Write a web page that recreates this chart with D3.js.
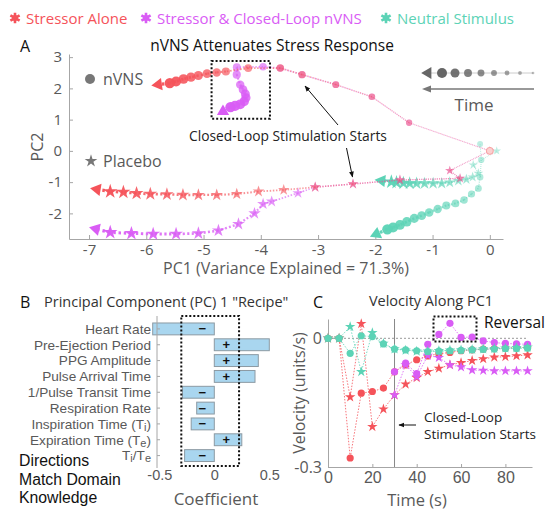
<!DOCTYPE html>
<html>
<head>
<meta charset="utf-8">
<script src="https://cdn.jsdelivr.net/npm/d3@7"></script>
<style>
body { margin: 0; background: #fff; }
svg { font-family: "Open Sans", sans-serif; }
</style>
</head>
<body>
<svg width="554" height="510"></svg>
<script>
// ---- panel A: PC1/PC2 trajectories, [pc1, pc2], in time order (last point = triangle) ----
var stressNvns = [[0,0],[-1.41,0.9],[-2.06,1.73],[-2.69,2.12],[-3.28,2.44],[-3.66,2.65],[-4.22,2.65],[-4.61,2.54],[-4.77,2.51],[-4.94,2.47],[-5.09,2.41],[-5.22,2.36],[-5.35,2.30],[-5.48,2.22],[-5.59,2.17],[-5.79,2.12]];
var closedNvns = [[0,0],[-1.41,0.9],[-2.06,1.73],[-2.69,2.12],[-3.28,2.44],[-3.66,2.65],[-3.96,2.69],[-4.42,2.68],[-4.42,2.44],[-4.36,2.12],[-4.31,1.96],[-4.27,1.82],[-4.26,1.70],[-4.29,1.58],[-4.36,1.49],[-4.45,1.44],[-4.53,1.40],[-4.66,1.26]];
var neutralNvns = [[-0.17,0.22],[-0.15,-0.29],[-0.17,-0.84],[-0.2,-1.2],[-0.32,-1.38],[-0.45,-1.57],[-0.6,-1.68],[-0.76,-1.75],[-0.91,-1.86],[-1.06,-1.97],[-1.19,-2.07],[-1.32,-2.16],[-1.45,-2.27],[-1.57,-2.37],[-1.69,-2.45],[-1.79,-2.51],[-1.98,-2.66]];
var stressPlacebo = [[0,0],[-0.70,-0.63],[-0.52,-0.88],[-1.57,-0.93],[-2.39,-1.06],[-3.05,-1.16],[-3.6,-1.25],[-4.04,-1.30],[-4.42,-1.38],[-4.77,-1.41],[-5.09,-1.41],[-5.36,-1.41],[-5.64,-1.39],[-5.93,-1.38],[-6.17,-1.36],[-6.40,-1.32],[-6.63,-1.30],[-6.86,-1.23]];
var closedPlacebo = [[0,0],[-0.70,-0.63],[-0.52,-0.88],[-1.57,-0.93],[-2.39,-1.06],[-3.05,-1.16],[-3.35,-1.35],[-3.81,-1.62],[-3.96,-1.70],[-4.11,-2.0],[-4.39,-2.34],[-4.74,-2.55],[-5.09,-2.64],[-5.48,-2.66],[-5.88,-2.66],[-6.26,-2.64],[-6.63,-2.61],[-6.88,-2.50]];
var neutralPlacebo = [[0.12,0.0],[-0.29,-0.45],[-0.2,-0.72],[-0.3,-0.84],[-0.41,-0.91],[-0.55,-0.96],[-0.7,-1.01],[-0.84,-1.04],[-0.99,-1.04],[-1.14,-1.04],[-1.28,-1.04],[-1.40,-1.04],[-1.51,-1.03],[-1.63,-1.01],[-1.72,-0.99],[-1.89,-0.95]];
var pc1Ticks = [-7,-6,-5,-4,-3,-2,-1,0];
var pc2Ticks = [-2,-1,0,1,2,3];

// ---- panel B: PC1 loadings ----
var features = ["Heart Rate","Pre-Ejection Period","PPG Amplitude","Pulse Arrival Time","1/Pulse Transit Time","Respiration Rate","Inspiration Time (T_i)","Expiration Time (T_e)","T_i/T_e"];
var coefs = [-0.56, 0.50, 0.40, 0.37, -0.29, -0.16, -0.21, 0.25, -0.27];
var coefTicks = [-0.5, 0, 0.5];

// ---- panel C: velocity along PC1 ----
var times = [0,5,10,15,20,25,30,35,40,45,50,55,60,65,70,75,80,85,90];
var velStressNvns = [0,0,-0.279,-0.128,-0.124,-0.116,-0.078,-0.062,-0.050,-0.041,-0.036,-0.033,-0.029,-0.027,-0.025,-0.024,-0.023,-0.022,-0.021];
var velStressPlacebo = [0,0,-0.137,0.034,-0.206,-0.165,-0.132,-0.107,-0.092,-0.078,-0.070,-0.062,-0.057,-0.052,-0.048,-0.044,-0.043,-0.041,-0.039];
var velClosedNvns = [0,0,-0.279,-0.128,-0.124,-0.116,-0.078,-0.058,-0.082,-0.014,0.009,0.035,0.002,0.003,-0.006,-0.010,-0.012,-0.013,-0.014];
var velClosedPlacebo = [0,0,-0.137,0.034,-0.206,-0.165,-0.132,-0.062,-0.090,-0.040,-0.045,-0.062,-0.067,-0.074,-0.075,-0.076,-0.076,-0.076,-0.076];
var velNeutralNvns = [0,0,-0.035,0.006,0.004,-0.013,-0.025,-0.027,-0.029,-0.031,-0.030,-0.029,-0.028,-0.027,-0.026,-0.025,-0.024,-0.024,-0.023];
var velNeutralPlacebo = [0,0,0.027,-0.078,0.013,-0.012,-0.025,-0.028,-0.030,-0.030,-0.029,-0.028,-0.027,-0.026,-0.025,-0.024,-0.023,-0.022,-0.021];
var velTimeTicks = [0,20,40,60,80];
var velTicks = [-0.3, 0];
var stimTime = 30;

var red = "#f5535a", mag = "#d95cf5", teal = "#5cd3b6";
var txtGrey = "#595959", axGrey = "#a6a6a6";

var svg = d3.select("svg");
svg.append("defs").append("marker")
    .attr("id", "arr").attr("viewBox", "0 0 10 10").attr("refX", 9).attr("refY", 5)
    .attr("markerWidth", 6).attr("markerHeight", 6).attr("orient", "auto-start-reverse")
  .append("path").attr("d", "M0,1L10,5L0,9z").attr("fill", "#111");

function styleAxis(g, size) {
  g.select(".domain").attr("stroke", axGrey);
  g.selectAll(".tick line").attr("stroke", axGrey);
  g.selectAll(".tick text").attr("fill", txtGrey).style("font-size", size + "px").style("font-family", "Open Sans");
}

// ---- top legend ----
var legend = [["Stressor Alone", red, 15], ["Stressor & Closed-Loop nVNS", mag, 146], ["Neutral Stimulus", teal, 386]];
legend.forEach(function(d) {
  svg.append("path").attr("transform", "translate(" + d[2] + ",18)")
      .attr("d", d3.symbol(d3.symbolAsterisk, 80)()).attr("stroke", d[1]).attr("stroke-width", 2.6);
  svg.append("circle").attr("cx", d[2]).attr("cy", 18).attr("r", 3).attr("fill", d[1]);
  svg.append("text").attr("x", d[2] + 11).attr("y", 23.5).attr("fill", d[1])
      .style("font-size", "15px").text(d[0]);
});

// ================= panel A =================
var xA = d3.scaleLinear().domain([-7.35, 0.23]).range([69, 503]);
var yA = d3.scaleLinear().domain([-2.82, 3.1]).range([239, 54]);

svg.append("text").attr("x", 20).attr("y", 52).style("font-size", "16px").attr("fill", "#111").text("A");
svg.append("text").attr("x", 272).attr("y", 50.5).attr("text-anchor", "middle")
    .style("font-size", "15.5px").attr("fill", "#111").text("nVNS Attenuates Stress Response");

svg.append("g").attr("transform", "translate(0,239)")
    .call(d3.axisBottom(xA).tickValues(pc1Ticks).tickSize(-4).tickSizeOuter(0).tickPadding(5).tickFormat(String))
    .call(styleAxis, 15);
svg.append("g").attr("transform", "translate(69,0)")
    .call(d3.axisLeft(yA).tickValues(pc2Ticks).tickSize(-4).tickSizeOuter(0).tickPadding(7).tickFormat(String))
    .call(styleAxis, 15);
svg.append("text").attr("x", 286).attr("y", 274).attr("text-anchor", "middle")
    .style("font-size", "16px").attr("fill", txtGrey).text("PC1 (Variance Explained = 71.3%)");
svg.append("text").attr("transform", "translate(43,147) rotate(-90)").attr("text-anchor", "middle")
    .style("font-size", "16px").attr("fill", txtGrey).text("PC2");

var gA = svg.append("g");
function trajectory(pts, color, shape) {
  var n = pts.length, g = gA.append("g");
  var px = pts.map(function(p) { return [xA(p[0]), yA(p[1])]; });
  for (var i = 1; i < n; i++) {
    var t = i / (n - 1), w = 0.9 + 2.3 * t;
    g.append("line")
        .attr("x1", px[i - 1][0]).attr("y1", px[i - 1][1])
        .attr("x2", px[i][0]).attr("y2", px[i][1])
        .attr("stroke", color).attr("stroke-width", w)
        .attr("stroke-dasharray", (w * 0.8) + "," + (w * 0.9))
        .attr("opacity", 0.35 + 0.6 * t);
  }
  px.forEach(function(p, i) {
    if (i == n - 1) return;
    var t = i / (n - 1), op = 0.4 + 0.6 * t;
    if (shape == "circle") {
      g.append("circle").attr("cx", p[0]).attr("cy", p[1]).attr("r", 3 + 2.3 * t)
          .attr("fill", color).attr("opacity", op);
    } else {
      g.append("path").attr("transform", "translate(" + p[0] + "," + p[1] + ")")
          .attr("d", d3.symbol(d3.symbolStar, 24 + 44 * t)()).attr("fill", color).attr("opacity", op);
    }
  });
  var a = px[n - 2], b = px[n - 1];
  var ang = Math.atan2(b[1] - a[1], b[0] - a[0]) * 180 / Math.PI + 90;
  g.append("path").attr("transform", "translate(" + b[0] + "," + b[1] + ") rotate(" + ang + ")")
      .attr("d", d3.symbol(d3.symbolTriangle, 65)()).attr("fill", color);
}

trajectory(neutralPlacebo, teal, "star");
trajectory(neutralNvns, teal, "circle");
trajectory(closedPlacebo, mag, "star");
trajectory(stressPlacebo, red, "star");
trajectory(closedNvns, mag, "circle");
trajectory(stressNvns, red, "circle");
// open start marker at origin
gA.append("circle").attr("cx", xA(0)).attr("cy", yA(0)).attr("r", 3.5)
    .attr("fill", "#fbd0d0").attr("stroke", "#f7a0a0");

// dotted box around closed-loop divergence
gA.append("rect").attr("x", xA(-4.86)).attr("y", yA(2.88))
    .attr("width", xA(-3.84) - xA(-4.86)).attr("height", yA(1.03) - yA(2.88))
    .attr("fill", "none").attr("stroke", "#111").attr("stroke-width", 2).attr("stroke-dasharray", "2,2");

// nVNS / Placebo key
gA.append("circle").attr("cx", 90).attr("cy", 79).attr("r", 5).attr("fill", "#777");
gA.append("text").attr("x", 103).attr("y", 85).style("font-size", "16px").attr("fill", txtGrey).text("nVNS");
gA.append("path").attr("transform", "translate(91,161)").attr("d", d3.symbol(d3.symbolStar, 50)()).attr("fill", "#777");
gA.append("text").attr("x", 103).attr("y", 167).style("font-size", "16px").attr("fill", txtGrey).text("Placebo");

// time key
var timeX = d3.scaleLinear().domain([0, 7]).range([442, 533]);
var timeKey = [0, 1, 2, 3, 4, 5, 6, 7];
gA.append("line").attr("x1", 426).attr("x2", 533).attr("y1", 73).attr("y2", 73).attr("stroke", "#ccc");
timeKey.forEach(function(k) {
  gA.append("circle").attr("cx", timeX(k)).attr("cy", 73).attr("r", 5 - k * 0.52)
      .attr("fill", "#666").attr("opacity", 1 - k * 0.08);
});
gA.append("path").attr("transform", "translate(428,73) rotate(-90)")
    .attr("d", d3.symbol(d3.symbolTriangle, 60)()).attr("fill", "#666");
gA.append("line").attr("x1", 534).attr("x2", 425).attr("y1", 89).attr("y2", 89)
    .attr("stroke", "#777").attr("stroke-width", 1.5);
gA.append("path").attr("d", "M422,89L431,85.5L431,92.5z").attr("fill", "#777");
gA.append("text").attr("x", 474).attr("y", 111).attr("text-anchor", "middle")
    .style("font-size", "17px").attr("fill", txtGrey).text("Time");

// annotation
gA.append("text").attr("x", 189).attr("y", 141).style("font-size", "13.8px").attr("fill", "#222")
    .text("Closed-Loop Stimulation Starts");
gA.append("line").attr("x1", 338).attr("y1", 125).attr("x2", 305).attr("y2", 86)
    .attr("stroke", "#111").attr("marker-end", "url(#arr)");
gA.append("line").attr("x1", 346.5).attr("y1", 148).attr("x2", 352.5).attr("y2", 177)
    .attr("stroke", "#111").attr("marker-end", "url(#arr)");

// ================= panel B =================
var xB = d3.scaleLinear().domain([-0.53, 0.55]).range([156, 274.8]);
var yB = d3.scaleBand().domain(features).range([321, 463.5]).paddingInner(0.25).paddingOuter(0.125);

svg.append("text").attr("x", 20).attr("y", 308).style("font-size", "16px").attr("fill", "#111").text("B");
svg.append("text").attr("x", 44).attr("y", 307).style("font-size", "14.5px").attr("fill", "#333")
    .text("Principal Component (PC) 1 \"Recipe\"");

var gB = svg.append("g");
gB.selectAll("rect.bar").data(features).enter().append("rect").attr("class", "bar")
    .attr("x", function(d, i) { return xB(Math.min(0, coefs[i])); })
    .attr("width", function(d, i) { return Math.abs(xB(coefs[i]) - xB(0)); })
    .attr("y", function(d) { return yB(d); })
    .attr("height", yB.bandwidth())
    .attr("fill", "#a9d6ef").attr("stroke", "#8c9aa3");
gB.selectAll("text.sign").data(features).enter().append("text").attr("class", "sign")
    .attr("x", function(d, i) { return xB(coefs[i] < 0 ? -0.11 : 0.11); })
    .attr("y", function(d) { return yB(d) + yB.bandwidth() / 2 + 4.5; })
    .attr("text-anchor", "middle").style("font-family", "Liberation Sans")
    .style("font-size", "13px").style("font-weight", "bold").attr("fill", "#111")
    .text(function(d, i) { return coefs[i] < 0 ? "\u2212" : "+"; });

var yAxisB = gB.append("g").attr("transform", "translate(157,0)")
    .call(d3.axisLeft(yB).tickSize(-3).tickSizeOuter(0).tickFormat(""))
    .call(styleAxis, 13);
yAxisB.select(".domain").attr("d", "M0,316V468");
yAxisB.selectAll(".tick text").remove();
// feature labels with subscripts
features.forEach(function(f) {
  var t = gB.append("text").attr("x", 151).attr("y", yB(f) + yB.bandwidth() / 2 + 4.8)
      .attr("text-anchor", "end").style("font-family", "Liberation Sans")
      .style("font-size", "13.6px").attr("fill", txtGrey);
  f.split(/(_[ie])/).forEach(function(part) {
    if (part.charAt(0) == "_") {
      t.append("tspan").attr("baseline-shift", "-20%").style("font-size", "11px").text(part.slice(1));
    } else if (part) {
      t.append("tspan").text(part);
    }
  });
});
gB.append("g").attr("transform", "translate(0,463)")
    .call(d3.axisBottom(xB).tickValues(coefTicks).tickSize(0).tickPadding(7).tickFormat(String))
    .call(styleAxis, 14.5)
    .call(function(g) { g.selectAll(".tick text").style("font-family", "Liberation Sans"); })
    .select(".domain").remove();
gB.append("text").attr("x", 216).attr("y", 505).attr("text-anchor", "middle")
    .style("font-size", "17px").attr("fill", txtGrey).text("Coefficient");
gB.append("rect").attr("x", xB(-0.30)).attr("y", 316).attr("width", xB(0.225) - xB(-0.30)).attr("height", 150)
    .attr("fill", "none").attr("stroke", "#111").attr("stroke-width", 2).attr("stroke-dasharray", "2,2");
["Directions", "Match Domain", "Knowledge"].forEach(function(s, i) {
  gB.append("text").attr("x", 19).attr("y", 466 + i * 18.5).style("font-family", "Liberation Sans")
      .style("font-size", "15.8px").attr("fill", "#111").text(s);
});

// ================= panel C =================
var xC = d3.scaleLinear().domain([0, 92]).range([328, 532]);
var yC = d3.scaleLinear().domain([-0.3, 0.045]).range([467, 319]);

svg.append("text").attr("x", 313).attr("y", 308).style("font-size", "16px").attr("fill", "#111").text("C");
svg.append("text").attr("x", 431).attr("y", 306).attr("text-anchor", "middle")
    .style("font-size", "14.5px").attr("fill", "#333").text("Velocity Along PC1");

var gC = svg.append("g");
gC.append("line").attr("x1", xC(0)).attr("x2", xC(90)).attr("y1", yC(0)).attr("y2", yC(0))
    .attr("stroke", "#999").attr("stroke-dasharray", "2,2");
gC.append("line").attr("x1", xC(stimTime)).attr("x2", xC(stimTime)).attr("y1", 319).attr("y2", 467)
    .attr("stroke", "#888");
gC.append("g").attr("transform", "translate(0,467)")
    .call(d3.axisBottom(xC).tickValues(velTimeTicks).tickSize(-3).tickSizeOuter(0).tickPadding(5).tickFormat(String))
    .call(styleAxis, 16)
    .call(function(g) { g.selectAll(".tick text").style("font-family", "Liberation Sans"); });
gC.append("g").attr("transform", "translate(328,0)")
    .call(d3.axisLeft(yC).tickValues(velTicks).tickSize(-3).tickSizeOuter(0).tickPadding(6).tickFormat(String))
    .call(styleAxis, 16);
gC.append("text").attr("x", 417).attr("y", 505.5).attr("text-anchor", "middle")
    .style("font-size", "16.5px").attr("fill", txtGrey).text("Time (s)");
gC.append("text").attr("transform", "translate(305,393) rotate(-90)").attr("text-anchor", "middle")
    .style("font-size", "16px").attr("fill", txtGrey).text("Velocity (units/s)");

function velSeries(vals, color, shape, from) {
  var g = gC.append("g");
  var idx = d3.range(from, times.length);
  var line = d3.line().x(function(i) { return xC(times[i]); }).y(function(i) { return yC(vals[i]); });
  g.append("path").attr("d", line(idx)).attr("fill", "none").attr("stroke", color)
      .attr("stroke-width", 1).attr("stroke-dasharray", "1.5,1.5").attr("opacity", 0.8);
  idx.forEach(function(i) {
    if (shape == "circle") {
      g.append("circle").attr("cx", xC(times[i])).attr("cy", yC(vals[i])).attr("r", 3.6).attr("fill", color);
    } else {
      g.append("path").attr("transform", "translate(" + xC(times[i]) + "," + yC(vals[i]) + ")")
          .attr("d", d3.symbol(d3.symbolStar, 34)()).attr("fill", color);
    }
  });
}
var stimIdx = times.indexOf(stimTime);
velSeries(velStressNvns, red, "circle", 0);
velSeries(velStressPlacebo, red, "star", 0);
velSeries(velClosedPlacebo, mag, "star", stimIdx);
velSeries(velClosedNvns, mag, "circle", stimIdx);
velSeries(velNeutralPlacebo, teal, "star", 0);
velSeries(velNeutralNvns, teal, "circle", 0);

gC.append("rect").attr("x", 433.5).attr("y", 316.5).attr("width", 43).attr("height", 25)
    .attr("fill", "none").attr("stroke", "#111").attr("stroke-width", 2).attr("stroke-dasharray", "2,2");
gC.append("text").attr("x", 484).attr("y", 328).style("font-size", "15.5px").attr("fill", "#111").text("Reversal");
gC.append("text").attr("x", 424).attr("y", 422).style("font-size", "13.5px").attr("fill", "#222").text("Closed-Loop");
gC.append("text").attr("x", 424).attr("y", 439).style("font-size", "13.5px").attr("fill", "#222").text("Stimulation Starts");
gC.append("line").attr("x1", 416).attr("x2", 399).attr("y1", 425).attr("y2", 425)
    .attr("stroke", "#111").attr("marker-end", "url(#arr)");
</script>
</body>
</html>
